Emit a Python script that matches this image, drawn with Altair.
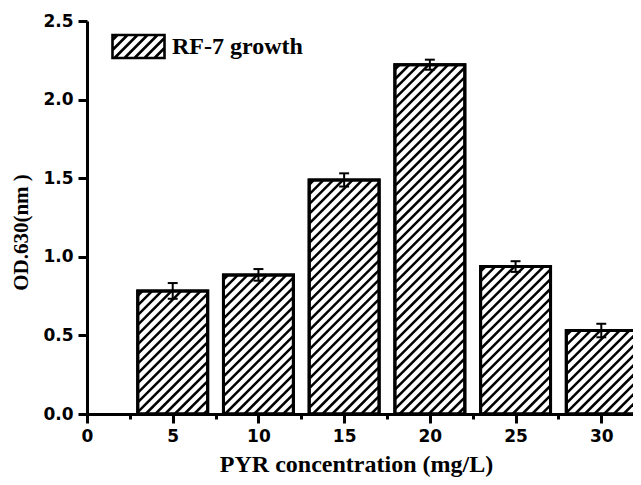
import altair as alt
import pandas as pd

# ---- data ----
conc = [5, 10, 15, 20, 25, 30]                      # PYR concentration (mg/L)
od630 = [0.783, 0.885, 1.489, 2.222, 0.938, 0.531]   # OD.630
sd = [0.050, 0.037, 0.042, 0.032, 0.034, 0.043]      # error bar half-length
series_name = "RF-7 growth"

# ---- layout / style constants ----
W, H = 546, 393
XMAX, YMAX = 31.85, 2.5
HALF = 2.04          # half bar width in x units
CAP = 0.29           # half cap width in x units
SP = 9.7             # hatch spacing (px, horizontal)
kx, ky = W / XMAX, H / YMAX

bars = pd.DataFrame({"conc": conc, "od": od630, "sd": sd, "series": series_name})

# hatch texture derived from the bar values (45 degree lines in pixel space)
rows = []
for x, v in zip(conc, od630):
    left = x - HALF
    w_px, h_px = 2 * HALF * kx, v * ky
    c = -h_px + SP / 2
    while c < w_px:
        us, ue = max(0.0, c), min(w_px, h_px + c)
        if ue > us:
            rows.append({"hx1": left + us / kx, "hy1": (us - c) / ky,
                         "hx2": left + ue / kx, "hy2": (ue - c) / ky})
        c += SP
hatch = pd.DataFrame(rows)

# legend swatch symbol: a hatched box as a custom path
r = 11.5 / 26
sp = 10 / 26
parts = [f"M-1,{-r:.4f}L1,{-r:.4f}L1,{r:.4f}L-1,{r:.4f}Z"]
c = -1 - r + sp / 2
while c < 1 + r:
    xs, xe = max(-1, c - r), min(1, c + r)
    if xe > xs:
        parts.append(f"M{xs:.4f},{c - xs:.4f}L{xe:.4f},{c - xe:.4f}")
    c += sp
swatch = "".join(parts)

xscale = alt.Scale(domain=[0, XMAX], nice=False, zero=False)
yscale = alt.Scale(domain=[0, YMAX], nice=False)

xaxis = alt.Axis(
    title="PYR concentration (mg/L)",
    values=[i * 2.5 for i in range(13)],
    labelExpr="datum.value % 5 == 0 ? format(datum.value, 'd') : ''",
    tickSize={"condition": {"test": "datum.value % 5 != 0", "value": 5}, "value": 9},
    labelOverlap=False, labelFlush=False, grid=False,
    labelFont="DejaVu Sans", labelFontWeight="bold", labelFontSize=17,
    labelColor="black", labelPadding=5,
    titleFont="Liberation Serif", titleFontWeight="bold", titleFontSize=24,
    titleColor="black", titleX=W / 2 - 4, titleY=57, titleBaseline="alphabetic",
    titleAlign="center",
    domainColor="black", domainWidth=3, tickColor="black", tickWidth=3,
)
yaxis = alt.Axis(
    title="OD.630(nm )",
    values=[i * 0.25 for i in range(11)],
    labelExpr="abs(datum.value*2 - round(datum.value*2)) < 0.001 ? format(datum.value, '.1f') : ''",
    tickSize={"condition": {"test": "abs(datum.value*2 - round(datum.value*2)) > 0.001", "value": 5}, "value": 9},
    labelOverlap=False, labelFlush=False, grid=False,
    labelFont="DejaVu Sans", labelFontWeight="bold", labelFontSize=17,
    labelColor="black", labelPadding=5,
    titleFont="Liberation Serif", titleFontWeight="bold", titleFontSize=21,
    titleColor="black", titleX=-60, titleY=211, titleBaseline="alphabetic",
    titleAlign="center", titleAngle=270,
    domainColor="black", domainWidth=3, tickColor="black", tickWidth=3,
)

base = alt.Chart(bars).transform_calculate(
    xl=f"datum.conc - {HALF}", xr=f"datum.conc + {HALF}",
    cl=f"datum.conc - {CAP}", cr=f"datum.conc + {CAP}",
    lo="datum.od - datum.sd", hi="datum.od + datum.sd",
    zero="0",
)

fill_bars = base.mark_rect(stroke="black", strokeWidth=3).encode(
    x=alt.X("xl:Q", scale=xscale, axis=xaxis),
    x2="xr:Q",
    y=alt.Y("od:Q", scale=yscale, axis=yaxis),
    y2="zero:Q",
    fill=alt.Fill("series:N", scale=alt.Scale(range=["white"]),
                  legend=alt.Legend(
                      title=None, orient="none", legendX=24, legendY=-2,
                      symbolType=swatch, symbolSize=2704,
                      symbolStrokeColor="black", symbolStrokeWidth=2.6,
                      symbolFillColor="white", symbolOpacity=1,
                      labelFont="Liberation Serif", labelFontWeight="bold",
                      labelFontSize=24, labelColor="black", labelOffset=6,
                      padding=0)),
)

hatch_layer = alt.Chart(hatch).mark_rule(color="black", strokeWidth=2.5).encode(
    x="hx1:Q", y="hy1:Q", x2="hx2:Q", y2="hy2:Q"
)

outline = base.mark_rect(fillOpacity=0, stroke="black", strokeWidth=3).encode(
    x="xl:Q", x2="xr:Q", y="od:Q", y2="zero:Q"
)

err = base.mark_rule(color="black", strokeWidth=2).encode(
    x="conc:Q", y="lo:Q", y2="hi:Q"
)
cap_lo = base.mark_rule(color="black", strokeWidth=2).encode(
    x="cl:Q", x2="cr:Q", y="lo:Q"
)
cap_hi = base.mark_rule(color="black", strokeWidth=2).encode(
    x="cl:Q", x2="cr:Q", y="hi:Q"
)

chart = alt.layer(fill_bars, hatch_layer, outline, err, cap_lo, cap_hi).properties(
    width=W, height=H,
    autosize=alt.AutoSizeParams(type="none"),
    padding={"left": 79, "top": 13, "right": 0, "bottom": 63},
    background="white",
).configure_view(stroke=None)

chart.save("out.html", embed_options={"renderer": "svg", "actions": False})
